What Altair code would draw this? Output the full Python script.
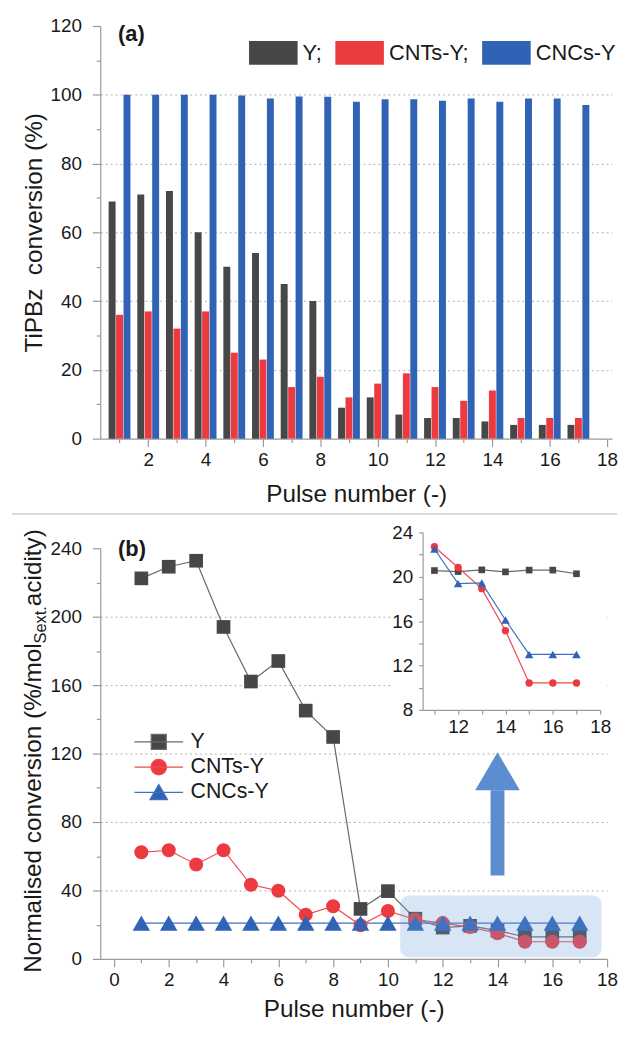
import altair as alt
import pandas as pd

# ---------------- data ----------------
pulses = list(range(1, 18))
series_b = ["Y", "CNTs-Y", "CNCs-Y"]
series_a = ["Y;", "CNTs-Y;", "CNCs-Y"]

conv_Y = [69.0, 71.0, 72.0, 60.0, 50.0, 54.0, 45.0, 40.0, 9.0, 12.0, 7.0, 6.0, 6.0, 5.0, 4.0, 4.0, 4.0]
conv_CNTs = [36.0, 37.0, 32.0, 37.0, 25.0, 23.0, 15.0, 18.0, 12.0, 16.0, 19.0, 15.0, 11.0, 14.0, 6.0, 6.0, 6.0]
conv_CNCs = [100.0, 100.0, 100.0, 100.0, 99.8, 98.9, 99.5, 99.4, 98.0, 98.7, 98.7, 98.3, 98.9, 98.0, 98.9, 98.9, 97.0]

norm_Y = [222.4, 229.2, 232.7, 194.0, 162.1, 174.1, 145.1, 129.7, 29.2, 39.6, 23.5, 18.3, 19.3, 16.5, 12.9, 12.9, 12.9]
norm_CNTs = [62.3, 63.5, 55.2, 63.5, 43.3, 39.8, 25.8, 30.8, 19.6, 28.0, 23.0, 20.9, 18.6, 15.0, 10.0, 10.0, 10.0]
norm_CNCs = [20.9, 20.9, 20.9, 20.9, 20.9, 20.9, 20.9, 20.9, 20.9, 20.9, 20.9, 20.9, 20.9, 20.9, 20.9, 20.9, 20.9]

inset_pulses = [11, 12, 13, 14, 15, 16, 17]
inset_Y = [20.56, 20.47, 20.62, 20.44, 20.60, 20.60, 20.27]
inset_CNTs = [22.70, 20.83, 18.93, 15.14, 10.43, 10.43, 10.43]
inset_CNCs = [22.50, 19.38, 19.44, 16.10, 13.00, 13.00, 13.00]

highlight_x = [10.45, 17.8]
highlight_y = [1.0, 37.0]
arrow_x = [14.0]
arrow_y = [48.7, 98.6]

xa_major = [2, 4, 6, 8, 10, 12, 14, 16, 18]
xa_minor = [1, 3, 5, 7, 9, 11, 13, 15, 17]
ya_major = [0, 20, 40, 60, 80, 100, 120]
ya_minor = [10, 30, 50, 70, 90, 110]
xb_major = [0, 2, 4, 6, 8, 10, 12, 14, 16, 18]
xb_minor = [1, 3, 5, 7, 9, 11, 13, 15, 17]
yb_major = [0, 40, 80, 120, 160, 200, 240]
yb_minor = [20, 60, 100, 140, 180, 220]
xi_ticks = [11, 12, 13, 14, 15, 16, 17, 18]
yi_ticks = [8, 10, 12, 14, 16, 18, 20, 22, 24]

# ---------------- style ----------------
FONT = "Liberation Sans"
C_Y, C_CNT, C_CNC = "#474747", "#ec3b40", "#3063b5"
L_Y, L_CNT, L_CNC = "#6a6a6a", "#f04a4f", "#3f70c2"
ARROW = "#5b8dd0"
AXC = "#9a9a9a"
TXT = "#1a1a1a"

W_A, H_A, W_B, H_B = 516, 416, 511, 414

AX = dict(domainColor=AXC, tickColor=AXC, labelColor=TXT, titleColor=TXT,
          labelFont=FONT, titleFont=FONT, labelFontSize=19, titleFontSize=24.5,
          titleFontWeight="normal", labelFlush=False, labelOverlap=False,
          domainWidth=1.2, tickWidth=1.2)
MINOR = dict(labels=False, domain=False, grid=False, title=None,
             tickColor=AXC, tickWidth=1.2, tickSize=4)


def sdf(xs, ys, name):
    return pd.DataFrame({"pulse": xs, "value": ys, "series": name})


def grid_cond(top):
    return {"condition": {"test": f"datum.value <= 0 || datum.value >= {top}", "value": 0}, "value": 1}


one = pd.DataFrame({"t": [0]})

# ---------------- panel (a) ----------------
xa_scale = alt.Scale(domain=[0.5, 18], nice=False, zero=False)
ya_scale = alt.Scale(domain=[0, 120], nice=False)
xa_axis = alt.Axis(orient="bottom", values=xa_major, tickSize=8, labelPadding=4, titlePadding=13,
                   grid=False, title="Pulse number (-)", **AX)
ya_axis = alt.Axis(orient="left", values=ya_major, tickSize=8, labelPadding=11, titlePadding=4, grid=True,
                   gridDash=[2, 3], gridColor="#b0b0b0", gridWidth=1, gridOpacity=grid_cond(120),
                   title="TiPBz\u00a0 conversion (%)", **AX)

legend_a = alt.Legend(orient="none", legendX=162.5, legendY=15, direction="horizontal", title=None,
                      symbolType="M-2.04,-1L2.04,-1L2.04,1L-2.04,1Z", symbolSize=576,
                      symbolStrokeWidth=0, labelFontSize=22, labelFont=FONT, labelColor=TXT,
                      labelOffset=17.5, columnPadding=13, padding=0)
color_a = alt.Scale(domain=series_a, range=[C_Y, C_CNT, C_CNC])

bars = []
for name, vals, off in zip(series_a, [conv_Y, conv_CNTs, conv_CNCs], [-7.5, 0, 7.5]):
    bars.append(
        alt.Chart(sdf(pulses, vals, name)).mark_bar(size=7, xOffset=off).encode(
            x=alt.X("pulse:Q", scale=xa_scale, axis=xa_axis),
            y=alt.Y("value:Q", scale=ya_scale, axis=ya_axis),
            color=alt.Color("series:N", scale=color_a, legend=legend_a),
        )
    )

label_a = alt.Chart(pd.DataFrame({"t": ["(a)"]})).mark_text(
    align="left", baseline="middle", fontSize=22, fontWeight="bold", font=FONT, color=TXT
).encode(x=alt.value(18), y=alt.value(8), text="t:N")

# thin grey rule separating the two panels
separator = alt.Chart(one).mark_rule(color="#cfcfcf", strokeWidth=1.5).encode(
    x=alt.value(-89), x2=alt.value(521), y=alt.value(H_A + 76))

a_minor = alt.Chart(sdf(pulses, conv_Y, "Y;")).mark_point(opacity=0).encode(
    x=alt.X("pulse:Q", scale=xa_scale, axis=alt.Axis(orient="bottom", values=xa_minor, **MINOR)),
    y=alt.Y("value:Q", scale=ya_scale, axis=alt.Axis(orient="left", values=ya_minor, **MINOR)),
)

panel_a = alt.layer(alt.layer(*bars, label_a, separator), a_minor).resolve_axis(
    x="independent", y="independent").properties(width=W_A, height=H_A)

# ---------------- panel (b) ----------------
xb_scale = alt.Scale(domain=[-0.5, 18], nice=False, zero=False)
yb_scale = alt.Scale(domain=[0, 240], nice=False)
xb_axis = alt.Axis(orient="bottom", values=xb_major, tickSize=8, labelPadding=4, titlePadding=8,
                   grid=False, title="Pulse number (-)", **AX)
yb_axis = alt.Axis(orient="left", values=yb_major, tickSize=8, labelPadding=11, grid=True,
                   gridDash=[2, 3], gridColor="#b0b0b0", gridWidth=1, gridOpacity=grid_cond(240),
                   title=None, **AX)

main_layers = []
for name, vals, lc, mc, shape, size in [
    ("Y", norm_Y, L_Y, C_Y, "square", 190),
    ("CNTs-Y", norm_CNTs, L_CNT, C_CNT, "circle", 200),
    ("CNCs-Y", norm_CNCs, L_CNC, C_CNC, "triangle-up", 310),
]:
    d = sdf(pulses, vals, name)
    enc = dict(x=alt.X("pulse:Q", scale=xb_scale, axis=xb_axis),
               y=alt.Y("value:Q", scale=yb_scale, axis=yb_axis))
    main_layers.append(alt.Chart(d).mark_line(color=lc, strokeWidth=1.2).encode(**enc))
    main_layers.append(alt.Chart(d).mark_point(shape=shape, filled=True, size=size, color=mc,
                                               opacity=1).encode(**enc))

box = alt.Chart(pd.DataFrame({"x0": [highlight_x[0]], "x1": [highlight_x[1]],
                              "y0": [highlight_y[0]], "y1": [highlight_y[1]]})).mark_rect(
    cornerRadius=9, color="#6d9fd9", opacity=0.27
).encode(x=alt.X("x0:Q", scale=xb_scale, axis=xb_axis), x2="x1:Q",
         y=alt.Y("y0:Q", scale=yb_scale, axis=yb_axis), y2="y1:Q")

arrow_df = pd.DataFrame({"x": arrow_x, "y0": [arrow_y[0]], "y1": [arrow_y[1]]})
shaft = alt.Chart(arrow_df).mark_rule(color=ARROW, strokeWidth=14, strokeCap="butt").encode(
    x=alt.X("x:Q", scale=xb_scale, axis=xb_axis),
    y=alt.Y("y0:Q", scale=yb_scale, axis=yb_axis), y2="y1:Q")
head = alt.Chart(arrow_df).mark_point(shape="M0,-1.7L1,0L-1,0Z", size=2025, filled=True,
                                      color=ARROW, opacity=1, strokeWidth=0).encode(
    x=alt.X("x:Q", scale=xb_scale, axis=xb_axis),
    y=alt.Y("y1:Q", scale=yb_scale, axis=yb_axis))

label_b = alt.Chart(pd.DataFrame({"t": ["(b)"]})).mark_text(
    align="left", baseline="middle", fontSize=22, fontWeight="bold", font=FONT, color=TXT
).encode(x=alt.value(18), y=alt.value(1), text="t:N")

# invisible rule giving panel (b) the same left extent as panel (a)
left_pad = alt.Chart(one).mark_rule(opacity=0).encode(
    x=alt.value(-89), x2=alt.value(-80), y=alt.value(200))

# y title with subscript, built from three text pieces
t_main = alt.Chart(pd.DataFrame({"t": ["Normalised conversion (%/mol"]})).mark_text(
    angle=270, align="left", baseline="alphabetic", fontSize=24.5, font=FONT, color=TXT
).encode(x=alt.value(-60), y=alt.value(428), text="t:N")
t_sub = alt.Chart(pd.DataFrame({"t": ["Sext."]})).mark_text(
    angle=270, align="left", baseline="alphabetic", fontSize=16.5, font=FONT, color=TXT
).encode(x=alt.value(-55), y=alt.value(96), text="t:N")
t_end = alt.Chart(pd.DataFrame({"t": ["\u00a0acidity)"]})).mark_text(
    angle=270, align="left", baseline="alphabetic", fontSize=24.5, font=FONT, color=TXT
).encode(x=alt.value(-60), y=alt.value(58.4), text="t:N")

# legend for (b): line-with-marker symbols (legend coordinates are relative to the whole figure)
sym_paths = [
    "M-1.885,0L1.885,0M-0.58,-0.58L0.58,-0.58L0.58,0.58L-0.58,0.58Z",
    "M-1.885,0L1.885,0M-0.6,0A0.6,0.6,0,1,0,0.6,0A0.6,0.6,0,1,0,-0.6,0Z",
    "M-1.885,0L1.885,0M0,-0.62L0.68,0.56L-0.68,0.56Z",
]
B_TOP = 524  # offset of panel (b) plot from panel (a) plot
legend_b = alt.Legend(orient="none", legendX=45, legendY=B_TOP + 183.7, direction="vertical",
                      title=None, symbolSize=676, symbolStrokeWidth=1.3, labelFontSize=21.5,
                      labelFont=FONT, labelColor=TXT, labelOffset=18, rowPadding=0.5, padding=0)
leg_layer = alt.Chart(pd.DataFrame({"series": series_b})).mark_point(filled=True, opacity=1).encode(
    fill=alt.Fill("series:N", scale=alt.Scale(domain=series_b, range=[C_Y, C_CNT, C_CNC]), legend=legend_b),
    stroke=alt.Stroke("series:N", scale=alt.Scale(domain=series_b, range=[L_Y, L_CNT, L_CNC]), legend=legend_b),
    shape=alt.Shape("series:N", scale=alt.Scale(domain=series_b, range=sym_paths), legend=legend_b),
).transform_filter("false")

b_minor = alt.Chart(sdf(pulses, norm_Y, "Y")).mark_point(opacity=0).encode(
    x=alt.X("pulse:Q", scale=xb_scale, axis=alt.Axis(orient="bottom", values=xb_minor, **MINOR)),
    y=alt.Y("value:Q", scale=yb_scale, axis=alt.Axis(orient="left", values=yb_minor, **MINOR)),
)

b_main = alt.layer(
    alt.layer(*main_layers, box, shaft, head, label_b, left_pad, t_main, t_sub, t_end, leg_layer),
    b_minor,
).resolve_axis(x="independent", y="independent")

# inset
NOTITLE = {k: v for k, v in AX.items() if not k.startswith("title")}
xi_scale = alt.Scale(domain=[10.5, 18], range=[325, 504], nice=False, zero=False)
yi_scale = alt.Scale(domain=[8, 24], range=[163, -16], nice=False, zero=False)
xi_axis = alt.Axis(orient="bottom", offset=-251, values=xi_ticks, tickSize=4, labelPadding=4,
                   labelExpr="datum.value % 2 === 0 ? datum.label : ''", grid=False, title=None,
                   zindex=1, **NOTITLE)
yi_axis = alt.Axis(orient="left", offset=-325, values=yi_ticks, tickSize=4, labelPadding=6,
                   labelExpr="datum.value % 4 === 0 ? datum.label : ''", grid=False, title=None,
                   zindex=1, **NOTITLE)

white = alt.Chart(one).mark_rect(color="white").encode(
    x=alt.value(294), x2=alt.value(511), y=alt.value(-26), y2=alt.value(199))

inset_layers = [white]
for name, vals, lc, mc, shape, size in [
    ("Y", inset_Y, L_Y, C_Y, "square", 45),
    ("CNTs-Y", inset_CNTs, L_CNT, C_CNT, "circle", 55),
    ("CNCs-Y", inset_CNCs, L_CNC, C_CNC, "triangle-up", 75),
]:
    d = sdf(inset_pulses, vals, name)
    enc = dict(x=alt.X("pulse:Q", scale=xi_scale, axis=xi_axis),
               y=alt.Y("value:Q", scale=yi_scale, axis=yi_axis))
    inset_layers.append(alt.Chart(d).mark_line(color=lc, strokeWidth=1.2).encode(**enc))
    inset_layers.append(alt.Chart(d).mark_point(shape=shape, filled=True, size=size, color=mc,
                                                opacity=1).encode(**enc))
inset = alt.layer(*inset_layers)

panel_b = alt.layer(b_main, inset).resolve_scale(x="independent", y="independent").properties(
    width=W_B, height=H_B)

chart = alt.vconcat(panel_a, panel_b, spacing=5.5).properties(
    padding={"left": 2, "top": 4, "right": 0, "bottom": 0}
).configure(font=FONT).configure_view(stroke="transparent")

chart.save("out.html", embed_options={"renderer": "svg", "actions": False})
